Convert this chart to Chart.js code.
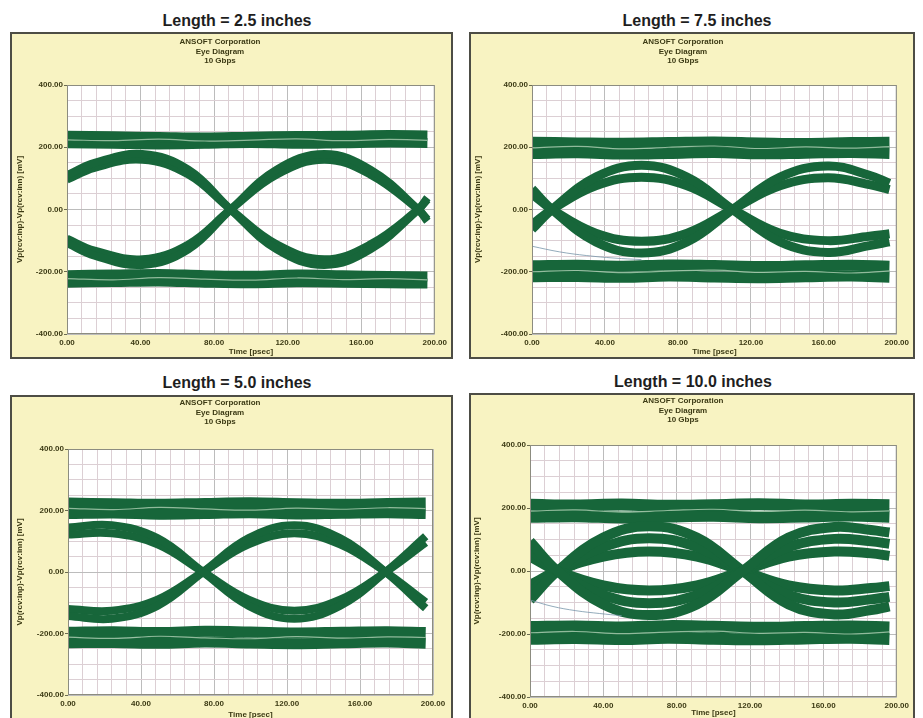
<!DOCTYPE html>
<html>
<head>
<meta charset="utf-8">
<script src="https://cdn.jsdelivr.net/npm/chart.js@4/dist/chart.umd.min.js"></script>
<style>
  body { margin: 0; width: 923px; height: 718px; background: #fff; position: relative; overflow: hidden;
         font-family: 'Liberation Sans', Arial, sans-serif; }
  .heading { position: absolute; width: 300px; text-align: center; font-size: 16px; line-height: 19px;
             font-weight: bold; color: #1e1e1e; }
  .box { position: absolute; box-sizing: border-box; background: #f8f3c2; border: 2px solid #4d4d45; }
  .box canvas { position: absolute; left: 0; top: 0; }
  .header { position: absolute; width: 200px; text-align: center; font-size: 8px; line-height: 9.5px;
            font-weight: bold; color: #3c3a14; }
</style>
</head>
<body>

<div class="heading" id="h25" style="left:87px; top:11px;"></div>
<div class="heading" id="h75" style="left:547px; top:11px;"></div>
<div class="heading" id="h50" style="left:87px; top:373px;"></div>
<div class="heading" id="h100" style="left:543px; top:372px;"></div>

<div class="box" style="left:10px; top:32px; width:443px; height:327px;"><canvas id="c25" width="439" height="323"></canvas></div>
<div class="box" style="left:469px; top:32px; width:446px; height:327px;"><canvas id="c75" width="442" height="323"></canvas></div>
<div class="box" style="left:10px; top:395px; width:443px; height:330px;"><canvas id="c50" width="439" height="323"></canvas></div>
<div class="box" style="left:469px; top:393px; width:446px; height:332px;"><canvas id="c100" width="442" height="323"></canvas></div>

<div class="header" id="t25" style="left:120px; top:37px;"></div>
<div class="header" id="t75" style="left:583px; top:37px;"></div>
<div class="header" id="t50" style="left:120px; top:398px;"></div>
<div class="header" id="t100" style="left:583px; top:396px;"></div>

<script>
// Text
const panelTitles = ['Length = 2.5 inches', 'Length = 7.5 inches', 'Length = 5.0 inches', 'Length = 10.0 inches'];
const headerLines = ['ANSOFT Corporation', 'Eye Diagram', '10 Gbps'];
const xAxisTitle = 'Time [psec]';
const yAxisTitle = 'Vp(rcv:inp)-Vp(rcv:inn) [mV]';
const xTickValues = [0, 40, 80, 120, 160, 200];
const yTickValues = [-400, -200, 0, 200, 400];

// Rail sample times (psec), shared by all panels
const railTimes = [0, 25, 50, 75, 100, 125, 150, 175, 196];

// ---- Length = 2.5 inches ----
const l25Times = [0, 15, 41, 66, 89, 114, 140, 165, 191, 196];
const l25DownOuter = [110, 150, 178, 128, 0, -128, -178, -128, 0, 38];
const l25DownInner = [96, 134, 160, 112, 0, -112, -160, -112, 0, 32];
const l25UpOuter = [-108, -148, -178, -128, 0, 128, 178, 128, 0, -38];
const l25UpInner = [-94, -132, -160, -112, 0, 112, 160, 112, 0, -32];
const l25TopA = [237, 235, 233, 231, 234, 236, 237, 239, 238];
const l25TopB = [213, 211, 209, 211, 214, 211, 213, 215, 214];
const l25TopStreak = [224, 221, 226, 220, 223, 227, 221, 225, 222];
const l25BotA = [-211, -209, -207, -211, -213, -209, -211, -214, -215];
const l25BotB = [-235, -233, -231, -235, -237, -234, -235, -237, -238];
const l25BotStreak = [-222, -226, -219, -224, -227, -220, -225, -222, -226];

// ---- Length = 7.5 inches ----
const l75Times = [0, 11, 35, 60, 85, 110, 136, 162, 185, 196];
const l75DownOuter = [66, 0, -104, -140, -104, 0, 104, 140, 110, 84];
const l75DownInner = [50, 0, -76, -102, -76, 0, 76, 102, 80, 64];
const l75UpOuter = [-64, 0, 104, 142, 104, 0, -104, -138, -116, -104];
const l75UpInner = [-48, 0, 76, 104, 76, 0, -76, -100, -86, -78];
const l75TopA = [216, 214, 213, 215, 217, 214, 212, 215, 216];
const l75TopB = [180, 182, 178, 180, 183, 179, 181, 183, 180];
const l75TopStreak = [198, 203, 195, 200, 204, 196, 201, 197, 202];
const l75BotA = [-181, -179, -182, -178, -180, -183, -181, -179, -182];
const l75BotB = [-216, -215, -218, -214, -217, -219, -216, -214, -218];
const l75BotStreak = [-200, -196, -203, -198, -195, -202, -199, -204, -197];
const l75StrayTimes = [0, 15, 30, 45, 60];
const l75Stray = [-118, -136, -148, -156, -161];

// ---- Length = 5.0 inches ----
const l50Times = [0, 24, 49, 74, 99, 124, 149, 174, 196];
const l50DownOuter = [145, 152, 110, 0, -110, -152, -110, 0, 116];
const l50DownInner = [122, 126, 90, 0, -90, -126, -90, 0, 96];
const l50UpOuter = [-143, -152, -110, 0, 110, 152, 110, 0, -118];
const l50UpInner = [-120, -126, -90, 0, 90, 126, 90, 0, -98];
const l50TopA = [224, 222, 220, 223, 225, 222, 220, 223, 224];
const l50TopB = [190, 192, 188, 190, 193, 189, 191, 193, 190];
const l50TopStreak = [207, 203, 210, 205, 201, 208, 204, 209, 206];
const l50BotA = [-196, -194, -197, -193, -195, -198, -196, -194, -197];
const l50BotB = [-230, -229, -232, -228, -231, -233, -230, -228, -232];
const l50BotStreak = [-212, -216, -209, -214, -217, -210, -215, -211, -213];

// ---- Length = 10.0 inches ----
const l100Times = [0, 15, 40, 65, 91, 116, 141, 166, 186, 196];
const l100DownOuter = [94, 0, -106, -140, -106, 0, 106, 140, 130, 122];
const l100DownMid = [70, 0, -76, -102, -76, 0, 76, 102, 94, 86];
const l100DownInner = [46, 0, -46, -62, -46, 0, 46, 62, 56, 48];
const l100UpOuter = [-92, 0, 106, 142, 106, 0, -106, -138, -124, -112];
const l100UpMid = [-68, 0, 76, 104, 76, 0, -76, -100, -90, -82];
const l100UpInner = [-44, 0, 46, 62, 46, 0, -46, -62, -54, -48];
const l100TopA = [210, 208, 211, 207, 209, 212, 208, 210, 209];
const l100TopB = [172, 174, 170, 173, 175, 171, 173, 176, 172];
const l100TopStreak = [190, 194, 187, 192, 196, 189, 193, 188, 191];
const l100BotA = [-178, -176, -179, -175, -177, -180, -178, -176, -179];
const l100BotB = [-215, -213, -216, -212, -215, -217, -214, -212, -216];
const l100BotStreak = [-196, -192, -199, -194, -191, -198, -195, -200, -193];
const l100StrayTimes = [0, 12, 25, 38, 50];
const l100Stray = [-92, -112, -126, -135, -142];

// Styles
const GREEN = '#17663a';
const STREAK = 'rgba(175, 208, 180, 0.8)';
const STRAY = 'rgba(120, 150, 170, 0.8)';
const TEXT = '#3c3a14';
const GRID_MAJOR = '#bcbcbc';
const GRID_MINOR = '#dccfd4';
const FAMILY = "'Liberation Sans', Arial, sans-serif";
Chart.defaults.font.family = FAMILY;

const pts = (xs, ys) => xs.map((x, i) => ({ x: x, y: ys[i] }));

function trace(xs, ys, width, color, order) {
    return {
        data: pts(xs, ys),
        borderColor: color || GREEN,
        borderWidth: width,
        pointRadius: 0,
        fill: false,
        tension: 0.4,
        borderCapStyle: 'butt',
        order: order === undefined ? 1 : order
    };
}

// white plot area and its frame
const plotFrame = {
    id: 'plotFrame',
    beforeDraw(chart) {
        const a = chart.chartArea, ctx = chart.ctx;
        ctx.save();
        ctx.fillStyle = '#ffffff';
        ctx.fillRect(a.left, a.top, a.right - a.left, a.bottom - a.top);
        ctx.restore();
    },
    afterDatasetsDraw(chart) {
        const a = chart.chartArea, ctx = chart.ctx;
        ctx.save();
        ctx.strokeStyle = '#8c8c80';
        ctx.lineWidth = 1;
        ctx.strokeRect(a.left + 0.5, a.top + 0.5, a.right - a.left - 1, a.bottom - a.top - 1);
        ctx.restore();
    }
};

function makePanel(canvasId, datasets, L) {
    const small = { family: FAMILY, size: 8, weight: 'bold' };
    return new Chart(document.getElementById(canvasId), {
        type: 'line',
        data: { datasets: datasets },
        options: {
            responsive: false,
            animation: false,
            events: [],
            layout: { padding: { left: L.padLeft, right: L.padRight, top: L.padTop, bottom: 0 } },
            plugins: { legend: { display: false }, tooltip: { enabled: false }, title: { display: false } },
            scales: {
                x: {
                    type: 'linear', min: 0, max: 200,
                    afterFit: s => { s.height = L.xHeight; },
                    ticks: {
                        stepSize: 8, maxTicksLimit: 100, autoSkip: false, maxRotation: 0, padding: 4,
                        font: small, color: TEXT,
                        callback: v => xTickValues.includes(v) ? v.toFixed(2) : ''
                    },
                    grid: { drawTicks: false, color: c => xTickValues.includes(c.tick.value) ? GRID_MAJOR : GRID_MINOR },
                    border: { display: false },
                    title: { display: true, text: xAxisTitle, font: small, color: TEXT, padding: 0 }
                },
                y: {
                    type: 'linear', min: -400, max: 400,
                    afterFit: s => { s.width = L.yWidth; },
                    ticks: {
                        stepSize: 50, maxTicksLimit: 100, autoSkip: false, padding: 1,
                        font: small, color: TEXT,
                        callback: v => yTickValues.includes(v) ? v.toFixed(2) : ''
                    },
                    grid: {
                        tickLength: 3,
                        color: c => yTickValues.includes(c.tick.value) ? GRID_MAJOR : GRID_MINOR,
                        tickColor: c => yTickValues.includes(c.tick.value) ? '#6b6b50' : 'rgba(0,0,0,0)'
                    },
                    border: { display: false },
                    title: { display: true, text: yAxisTitle, font: small, color: TEXT, padding: 0 }
                }
            }
        },
        plugins: [plotFrame]
    });
}

function railSets(a, b, sTop, c, d, sBot, w) {
    return [
        trace(railTimes, a, w), trace(railTimes, b, w),
        trace(railTimes, c, w), trace(railTimes, d, w),
        trace(railTimes, sTop, 1.2, STREAK, 0), trace(railTimes, sBot, 1.2, STREAK, 0)
    ];
}

// headings and header text
['h25', 'h75', 'h50', 'h100'].forEach((id, i) => { document.getElementById(id).textContent = panelTitles[i]; });
['t25', 't75', 't50', 't100'].forEach(id => { document.getElementById(id).innerHTML = headerLines.join('<br>'); });

makePanel('c25', [
    trace(l25Times, l25DownOuter, 8), trace(l25Times, l25DownInner, 8),
    trace(l25Times, l25UpOuter, 8), trace(l25Times, l25UpInner, 8)
].concat(railSets(l25TopA, l25TopB, l25TopStreak, l25BotA, l25BotB, l25BotStreak, 10)),
    { padLeft: 3, yWidth: 52, padRight: 16, padTop: 51, xHeight: 23 });

makePanel('c75', [
    trace(l75Times, l75DownOuter, 9), trace(l75Times, l75DownInner, 9),
    trace(l75Times, l75UpOuter, 9), trace(l75Times, l75UpInner, 9),
    trace(l75StrayTimes, l75Stray, 1, STRAY, 0)
].concat(railSets(l75TopA, l75TopB, l75TopStreak, l75BotA, l75BotB, l75BotStreak, 11)),
    { padLeft: 2, yWidth: 59, padRight: 10, padTop: 51, xHeight: 23 });

makePanel('c50', [
    trace(l50Times, l50DownOuter, 8), trace(l50Times, l50DownInner, 8),
    trace(l50Times, l50UpOuter, 8), trace(l50Times, l50UpInner, 8)
].concat(railSets(l50TopA, l50TopB, l50TopStreak, l50BotA, l50BotB, l50BotStreak, 11)),
    { padLeft: 3, yWidth: 53, padRight: 18, padTop: 52, xHeight: 25 });

makePanel('c100', [
    trace(l100Times, l100DownOuter, 10), trace(l100Times, l100DownMid, 10), trace(l100Times, l100DownInner, 10),
    trace(l100Times, l100UpOuter, 10), trace(l100Times, l100UpMid, 10), trace(l100Times, l100UpInner, 10),
    trace(l100StrayTimes, l100Stray, 1, STRAY, 0)
].concat(railSets(l100TopA, l100TopB, l100TopStreak, l100BotA, l100BotB, l100BotStreak, 12)),
    { padLeft: 1, yWidth: 58, padRight: 15, padTop: 50, xHeight: 21 });
</script>
</body>
</html>
